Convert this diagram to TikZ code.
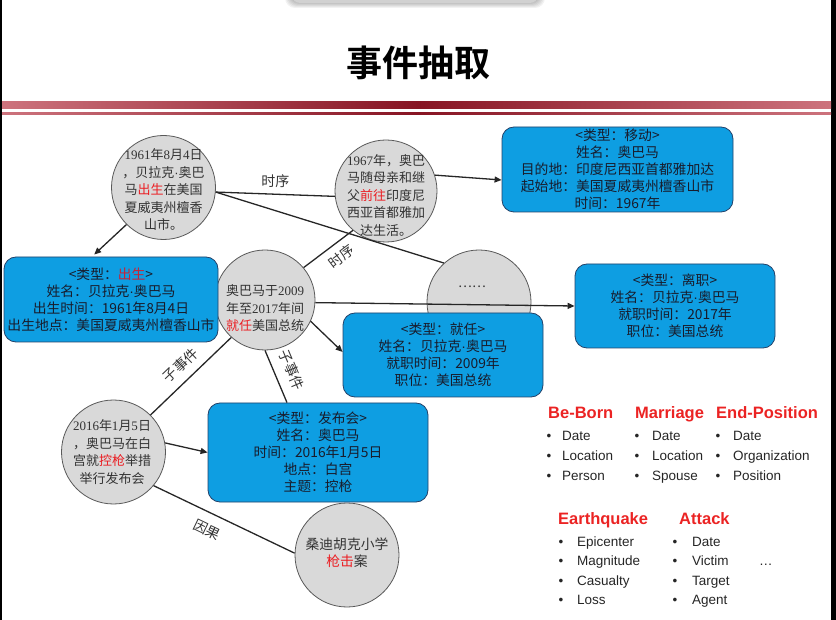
\documentclass[tikz,border=0pt]{standalone}
\usepackage{fontspec}
\setmainfont{Noto Sans CJK SC}[BoldFont={Noto Sans CJK SC Bold}]
\newfontfamily\serifnum{Liberation Serif}
\newfontfamily\arialfont{Liberation Sans}
\usetikzlibrary{arrows.meta}

\definecolor{hired}{RGB}{235,30,35}
\definecolor{birthred}{RGB}{200,35,55}
\definecolor{slotblue}{RGB}{14,158,226}
\definecolor{slotedge}{RGB}{35,65,105}
\definecolor{slottext}{RGB}{24,28,44}
\definecolor{legred}{RGB}{235,35,35}
\definecolor{bandlight}{RGB}{205,115,125}
\definecolor{banddark}{RGB}{135,20,35}

\newcommand\nm[1]{{\serifnum #1}}
\newcommand\hl[1]{\textcolor{hired}{#1}}
\newcommand\md{{\arialfont ·}}

\begin{document}
\begin{tikzpicture}[x=1pt,y=-1pt,
  evt/.style={circle, draw=black!65, line width=0.8pt, fill=black!15,
    minimum size=#1, inner sep=0pt},
  evttxt/.style={align=center, text=black!80, inner sep=0pt,
    font=\fontsize{13}{17.5}\selectfont},
  slot/.style={draw=slotedge, line width=0.8pt, fill=slotblue,
    rounded corners=12pt, align=center, inner sep=0pt, text=slottext,
    font=\fontsize{13.8}{17}\selectfont},
  link/.style={line width=1.3pt, draw=black!85},
  arr/.style={link, -{Triangle[length=7pt,width=6pt]}},
  rel/.style={font=\fontsize{14}{16}\selectfont, text=black!80, inner sep=0pt},
  hdr/.style={font=\arialfont\bfseries\fontsize{16.5}{18}\selectfont,
    text=legred, anchor=base west, inner sep=0pt},
  item/.style={font=\arialfont\fontsize{13.5}{16}\selectfont, text=black!85,
    anchor=base west, inner sep=0pt},
  bul/.style={font=\arialfont\fontsize{13.5}{16}\selectfont, text=black!85,
    anchor=base, inner sep=0pt}
]
\useasboundingbox (0,0) rectangle (836,620);

% screen frame
\fill[black] (0,0) rectangle (2,620);
\fill[black] (831,0) rectangle (836,620);

% tab at the top edge with its soft shadow
\foreach \k in {1,...,6}
  \fill[black, opacity=0.05, rounded corners=10pt] (291-\k,-20) rectangle (539+\k,2+\k);
\fill[black!18, rounded corners=8pt] (292,-20) rectangle (538,3);

% title
\node[font=\bfseries\fontsize{36}{40}\selectfont] (title) at (418,63) {事件抽取};

% red header rules
\shade[left color=bandlight, right color=banddark] (2,102) rectangle (418,109);
\shade[left color=banddark, right color=bandlight] (418,102) rectangle (831,109);
\shade[left color=bandlight, right color=banddark] (2,112.5) rectangle (418,115);
\shade[left color=banddark, right color=bandlight] (418,112.5) rectangle (831,115);

% event mentions
\node[evt=104pt] (A) at (163.5,187.5) {};
\node[evttxt] (At) at (163.5,190) {\nm{1961}年\nm{8}月\nm{4}日\\，贝拉克\md 奥巴\\马\hl{出生}在美国\\夏威夷州檀香\\山市。};

\node[evt=102pt] (B) at (386,191) {};
\node[evttxt] (Bt) at (386,195.5) {\nm{1967}年，奥巴\\马随母亲和继\\父\hl{前往}印度尼\\西亚首都雅加\\达生活。};

\node[evt=100pt] (C) at (265,300) {};
\node[evttxt] (Ct) at (265,308.5) {奥巴马于\nm{2009}\\年至\nm{2017}年间\\\hl{就任}美国总统};

\node[evt=104pt] (dots) at (479,302) {};
\node[evttxt] (dotst) at (472,287) {……};

\node[evt=104pt] (D) at (113.5,452) {};
\node[evttxt] (Dt) at (112,452) {\nm{2016}年\nm{1}月\nm{5}日\\，奥巴马在白\\宫就\hl{控枪}举措\\举行发布会};

\node[evt=104pt] (E) at (347,555) {};
\node[evttxt, font=\fontsize{13.8}{16.5}\selectfont] (Et) at (347,552.5) {桑迪胡克小学\\\hl{枪击}案};

% event frames
\node[slot, minimum width=231pt, minimum height=85pt] (move) at (617.5,169.5)
  {<类型：移动>\\姓名：奥巴马\\目的地：印度尼西亚首都雅加达\\起始地：美国夏威夷州檀香山市\\时间：1967年};
\node[slot, minimum width=214pt, minimum height=85pt] (birth) at (111,299.5)
  {<类型：\textcolor{birthred}{出生}>\\姓名：贝拉克\md 奥巴马\\出生时间：1961年8月4日\\出生地点：美国夏威夷州檀香山市};
\node[slot, minimum width=200pt, minimum height=84pt] (jiuren) at (443,355)
  {<类型：就任>\\姓名：贝拉克\md 奥巴马\\就职时间：2009年\\职位：美国总统};
\node[slot, minimum width=200pt, minimum height=84pt] (leave) at (675,306)
  {<类型：离职>\\姓名：贝拉克\md 奥巴马\\就职时间：2017年\\职位：美国总统};
\node[slot, minimum width=220pt, minimum height=99pt] (press) at (318,452.5)
  {<类型：发布会>\\姓名：奥巴马\\时间：2016年1月5日\\地点：白宫\\主题：控枪};

% relations between mentions and frames
\draw[arr, shorten >=3pt] (A.225) -- ([xshift=-19pt]birth.north);
\draw[link] (A.-5) -- node[rel, above=6pt] (tAB) {时序} (B.186);
\draw[link] (A.-5) -- (dots.132);
\draw[link] (C.40) -- node[rel, sloped, below=7pt, pos=0.6] (tCB) {时序} (B.230);
\draw[arr] (B.18) -- ([yshift=-10.5pt]move.west);
\draw[arr] (C.-3) -- (leave.west);
\draw[arr] (C.-25) -- ([yshift=3pt]jiuren.west);
\draw[link] (C.228) -- node[rel, sloped, above=8pt] (tCD) {子事件} (D.45);
\draw[link] (C.270) -- node[rel, sloped, above=10pt] (tCP) {子事件} ([xshift=-31pt]press.north);
\draw[arr] (D.10) -- (press.west);
\draw[link] (D.-40) -- node[rel, sloped, below=10pt, pos=0.43] (tDE) {因果} (E.178);

% event type schemas
\node[hdr] (hBorn) at (548,419) {Be-Born};
\node[hdr] (hMarr) at (635,419) {Marriage};
\node[hdr] (hEnd) at (716,419) {End-Position};
\foreach \t [count=\i] in {Date,Location,Person} {
  \node[bul] (bBorn\i) at (549,{441+19.5*(\i-1)}) {•};
  \node[item] (iBorn\i) at (562,{441+19.5*(\i-1)}) {\t};
}
\foreach \t [count=\i] in {Date,Location,Spouse} {
  \node[bul] (bMarr\i) at (637,{441+19.5*(\i-1)}) {•};
  \node[item] (iMarr\i) at (652,{441+19.5*(\i-1)}) {\t};
}
\foreach \t [count=\i] in {Date,Organization,Position} {
  \node[bul] (bEnd\i) at (718,{441+19.5*(\i-1)}) {•};
  \node[item] (iEnd\i) at (733,{441+19.5*(\i-1)}) {\t};
}
\node[hdr] (hQuake) at (558,524) {Earthquake};
\node[hdr] (hAtt) at (679,524) {Attack};
\foreach \t [count=\i] in {Epicenter,Magnitude,Casualty,Loss} {
  \node[bul] (bQuake\i) at (561,{546+19.5*(\i-1)}) {•};
  \node[item] (iQuake\i) at (577,{546+19.5*(\i-1)}) {\t};
}
\foreach \t [count=\i] in {Date,Victim,Target,Agent} {
  \node[bul] (bAtt\i) at (675,{546+19.5*(\i-1)}) {•};
  \node[item] (iAtt\i) at (692,{546+19.5*(\i-1)}) {\t};
}
\node[item] (more) at (759,565.5) {…};
\end{tikzpicture}
\end{document}
